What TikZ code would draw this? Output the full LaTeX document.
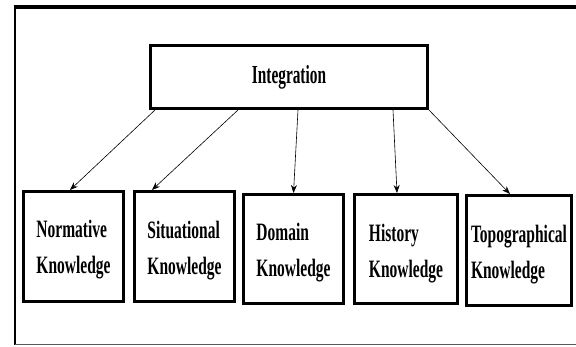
\documentclass[tikz,border=0pt]{standalone}
\usepackage{fontspec}
\setmainfont{Liberation Serif}
\newfontfamily\headfont{Liberation Serif}[FakeStretch=0.59]
\newfontfamily\leaffont{Liberation Serif}[FakeStretch=0.62]
\usetikzlibrary{arrows.meta}
\begin{document}
\begin{tikzpicture}[x=1pt,y=-1pt,
  topbox/.style={draw=black,line width=3pt,fill=white,inner sep=0pt,
    minimum width=277pt,minimum height=63pt,
    font=\headfont\bfseries\fontsize{26}{30}\selectfont},
  leafbox/.style={draw=black,line width=3pt,fill=white,inner sep=0pt,
    align=left,text depth=5.5pt,
    font=\leaffont\bfseries\fontsize{25}{36}\selectfont},
  link/.style={line width=0.6pt,-{Stealth[length=8pt,width=6pt]}}]
\useasboundingbox (0,0) rectangle (576,347);
% page frame: heavy top and left rules, light bottom rule
\draw[line width=3.5pt] (13.5,7) -- (576,7);
\draw[line width=2.5pt] (15,7) -- (15,345);
\draw[line width=1pt,black!65] (15,345) -- (576,345);
% root
\node[topbox] (integ) at (289,77) {Integration};
% leaves
\node[leafbox,text height=59.5pt,minimum width=100pt,minimum height=110pt] (norm) at (73.5,246.5) {Normative\\Knowledge};
\node[leafbox,text height=62pt,minimum width=100pt,minimum height=110pt] (situ) at (184.5,246.5) {Situational\\Knowledge};
\node[leafbox,text height=60.5pt,minimum width=100pt,minimum height=109pt] (dom) at (293.5,249) {Domain\\Knowledge};
\node[leafbox,text height=63pt,minimum width=103pt,minimum height=109pt] (hist) at (406,249) {History\\Knowledge};
\node[leafbox,text height=61pt,minimum width=105pt,minimum height=110pt] (topo) at (519,250.5) {Topographical\\Knowledge};
% links from the root to each leaf
\draw[link] ([xshift=6pt]integ.south west) -- ([xshift=-3.5pt]norm.north);
\draw[link] ([xshift=89pt]integ.south west) -- ([xshift=-32.5pt]situ.north);
\draw[link] ([xshift=9pt]integ.south) -- (dom.north);
\draw[link] ([xshift=-36pt]integ.south east) -- ([xshift=-9pt]hist.north);
\draw[link] (integ.south east) -- ([xshift=-9pt]topo.north);
\end{tikzpicture}
\end{document}
